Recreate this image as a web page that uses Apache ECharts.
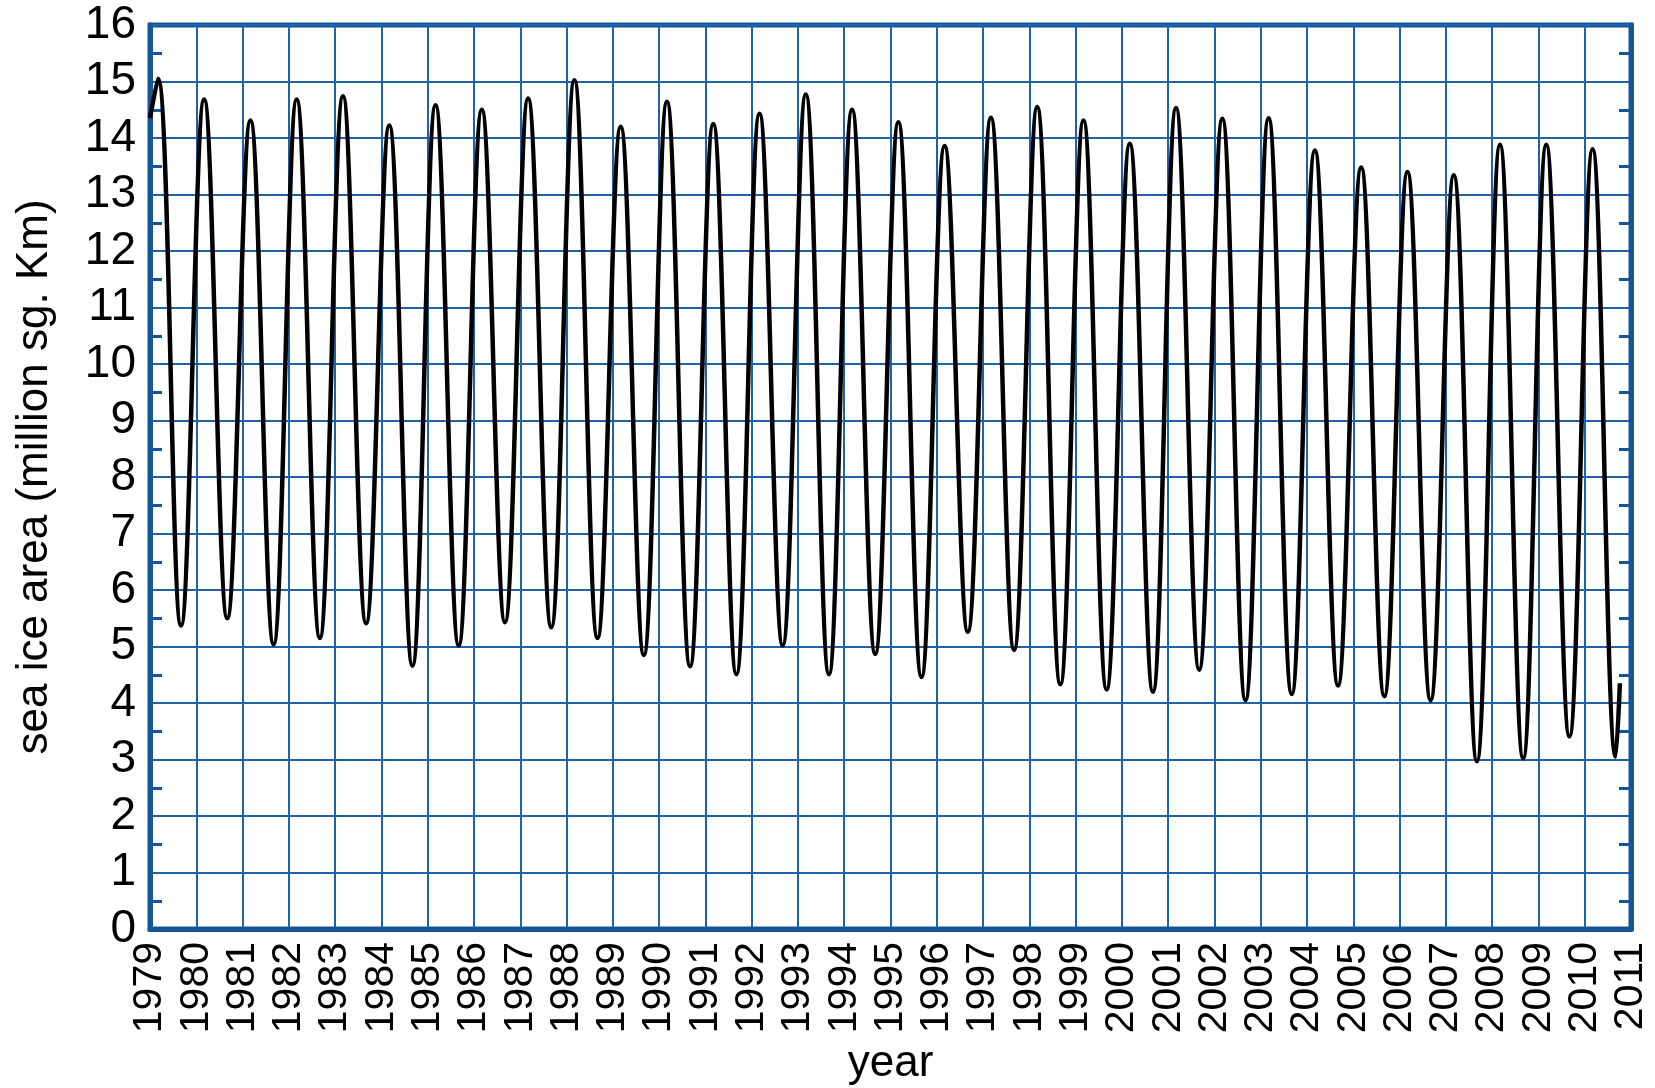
<!DOCTYPE html>
<html>
<head>
<meta charset="utf-8">
<script src="https://cdn.jsdelivr.net/npm/echarts@6/dist/echarts.min.js"></script>
<style>
  html, body { margin: 0; padding: 0; background: #ffffff; }
  #chart { width: 1655px; height: 1088px; }
</style>
</head>
<body>
<div id="chart"></div>
<script>
// yearly winter maximum and summer minimum
const years = [
  1979, 1980, 1981, 1982, 1983, 1984, 1985, 1986, 1987, 1988, 1989,
  1990, 1991, 1992, 1993, 1994, 1995, 1996, 1997, 1998, 1999, 2000,
  2001, 2002, 2003, 2004, 2005, 2006, 2007, 2008, 2009, 2010
];
const maxArea = [
  15.05, 14.68, 14.31, 14.68, 14.74, 14.22, 14.58, 14.5, 14.7, 15.02, 14.2,
  14.64, 14.25, 14.43, 14.77, 14.5, 14.28, 13.86, 14.36, 14.55, 14.31, 13.9,
  14.53, 14.34, 14.35, 13.78, 13.48, 13.4, 13.34, 13.88, 13.88, 13.8
];
const minArea = [
  5.37, 5.5, 5.04, 5.15, 5.41, 4.66, 5.02, 5.43, 5.34, 5.15, 4.85,
  4.65, 4.51, 5.02, 4.51, 4.87, 4.46, 5.26, 4.94, 4.33, 4.24, 4.2,
  4.59, 4.05, 4.16, 4.31, 4.12, 4.05, 2.97, 3.02, 3.41, 3.05
];
// time of year of the max (march) and min (september)
const maxPhase = 0.17;
const minPhase = 0.67;
// first and last readings of the record
const firstPoint = [1979.0, 14.35];
const lastPoint = [2010.76, 4.35];

const yTicks = [0, 16];
const xTicks = [1979, 2011];

const frameBlue = "#175696";
const gridBlue = "#2062a6";

// build the series from the extremes
const seriesData = [firstPoint];
for (let i = 0; i < years.length; i++) {
  seriesData.push([years[i] + maxPhase, maxArea[i]]);
  seriesData.push([years[i] + minPhase, minArea[i]]);
}
seriesData.push(lastPoint);

const chart = echarts.init(document.getElementById("chart"));

const yAxisBase = {
  type: "value",
  min: yTicks[0],
  max: yTicks[1],
  interval: 1,
  axisLine: { show: true, lineStyle: { color: frameBlue, width: 5 } },
  axisTick: { show: false, inside: true },
  minorTick: {
    show: true,
    splitNumber: 2,
    length: 12,
    lineStyle: { color: frameBlue, width: 3 },
  },
  splitLine: { show: true, lineStyle: { color: gridBlue, width: 2 } },
};

chart.setOption({
  animation: false,
  backgroundColor: "#ffffff",
  textStyle: { fontFamily: "Liberation Sans, Arial, sans-serif" },
  grid: {
    left: 150,
    right: 24,
    top: 25,
    bottom: 159,
    containLabel: false,
    outerBoundsMode: "none",
    show: true,
    borderColor: frameBlue,
    borderWidth: 5,
  },
  xAxis: {
    type: "value",
    min: xTicks[0],
    max: xTicks[1],
    interval: 1,
    name: "year",
    nameLocation: "middle",
    nameGap: 113,
    nameMoveOverlap: false,
    nameTextStyle: { fontSize: 44, color: "#000" },
    axisLine: { show: true, lineStyle: { color: frameBlue, width: 5 } },
    axisTick: { show: false },
    splitLine: { show: true, lineStyle: { color: gridBlue, width: 2 } },
    axisLabel: {
      rotate: 90,
      margin: 13,
      fontSize: 41,
      color: "#000",
      formatter: function (v) {
        return String(v);
      },
    },
  },
  yAxis: [
    Object.assign({}, yAxisBase, {
      position: "left",
      name: "sea ice area (million sg. Km)",
      nameLocation: "middle",
      nameGap: 93,
      nameMoveOverlap: false,
      nameTextStyle: { fontSize: 44, color: "#000" },
      axisLabel: { fontSize: 46, color: "#000", margin: 14 },
    }),
    Object.assign({}, yAxisBase, {
      position: "right",
      axisLabel: { show: false },
      splitLine: { show: false },
    }),
  ],
  series: [
    {
      type: "line",
      data: seriesData,
      smooth: 0.4,
      showSymbol: false,
      lineStyle: { color: "#000", width: 4.5 },
    },
  ],
});
</script>
</body>
</html>
